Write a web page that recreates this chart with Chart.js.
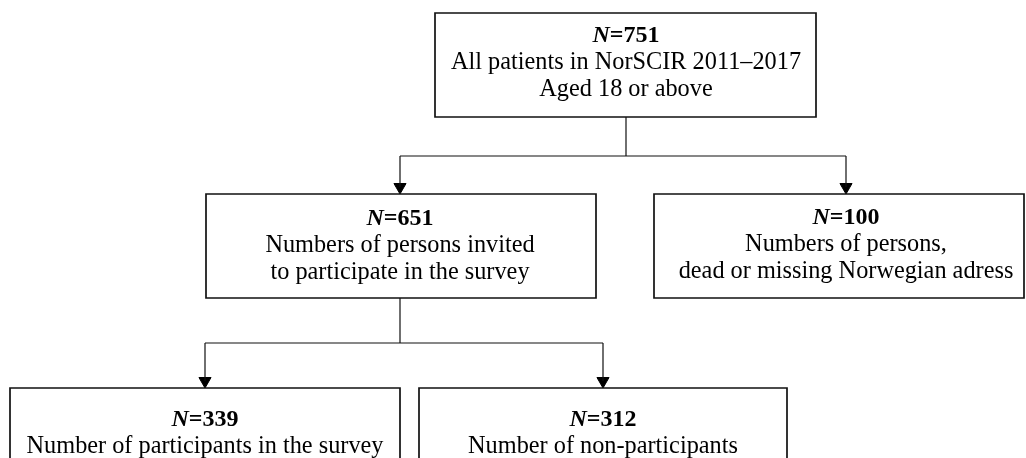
<!DOCTYPE html>
<html>
<head>
<meta charset="utf-8">
<script src="https://cdn.jsdelivr.net/npm/chart.js@4/dist/chart.umd.min.js"></script>
<style>
html,body{margin:0;padding:0;background:#fff;}
#wrap{width:1026px;height:458px;}
</style>
</head>
<body>
<div id="wrap"><canvas id="c" width="1026" height="458"></canvas></div>
<script>
// ---- data ----
const counts = [751, 651, 100, 339, 312];
const descriptions = [
  ["All patients in NorSCIR 2011\u20132017", "Aged 18 or above"],
  ["Numbers of persons invited", "to participate in the survey"],
  ["Numbers of persons,", "dead or missing Norwegian adress"],
  ["Number of participants in the survey"],
  ["Number of non-participants"]
];
const parentOf = [null, 0, 0, 1, 1];

// ---- layout (positions in page units) ----
const boxes = [
  {x0: 435, x1: 816, y0: 13,  y1: 117, cx: 626, ty: 36},
  {x0: 206, x1: 596, y0: 194, y1: 298, cx: 400, ty: 219},
  {x0: 654, x1: 1024, y0: 194, y1: 298, cx: 846, ty: 218},
  {x0: 10,  x1: 400, y0: 388, y1: 520, cx: 205, ty: 420},
  {x0: 419, x1: 787, y0: 388, y1: 520, cx: 603, ty: 420}
];
const branchY = {0: 156, 1: 343};
const lineGap = 27;
const arrowR = 7;

// ---- build datasets ----
const datasets = [];
boxes.forEach((b) => {
  datasets.push({
    data: [{x:b.x0,y:b.y0},{x:b.x1,y:b.y0},{x:b.x1,y:b.y1},{x:b.x0,y:b.y1},{x:b.x0,y:b.y0}],
    showLine: true, borderColor: '#111', borderWidth: 1.7, pointRadius: 0, fill: false,
    borderCapStyle: 'square', borderJoinStyle: 'miter'
  });
});
const arrowPts = [];
Object.keys(branchY).forEach((pk) => {
  const p = boxes[+pk];
  const by = branchY[pk];
  const kids = parentOf.map((v, i) => v === +pk ? i : -1).filter(i => i >= 0);
  const xs = kids.map(k => boxes[k].cx);
  datasets.push({data:[{x:p.cx,y:p.y1},{x:p.cx,y:by}], showLine:true, borderColor:'#111', borderWidth:1.2, pointRadius:0});
  datasets.push({data:[{x:Math.min(...xs),y:by},{x:Math.max(...xs),y:by}], showLine:true, borderColor:'#111', borderWidth:1.2, pointRadius:0});
  kids.forEach(k => {
    const c = boxes[k];
    datasets.push({data:[{x:c.cx,y:by},{x:c.cx,y:c.y0 - arrowR}], showLine:true, borderColor:'#111', borderWidth:1.2, pointRadius:0});
    arrowPts.push({x:c.cx, y:c.y0 - arrowR});
  });
});
datasets.push({
  data: arrowPts, showLine: false, pointStyle: 'triangle', rotation: 180,
  pointRadius: arrowR, pointBackgroundColor: '#000', pointBorderColor: '#000', pointBorderWidth: 1
});

const textPlugin = {
  id: 'boxText',
  afterDraw(chart) {
    const ctx = chart.ctx;
    const xs = chart.scales.x, ys = chart.scales.y;
    ctx.save();
    ctx.fillStyle = '#000';
    ctx.textBaseline = 'middle';
    boxes.forEach((b, i) => {
      const cx = xs.getPixelForValue(b.cx);
      const y = ys.getPixelForValue(b.ty);
      const f1 = 'italic bold 24px "Liberation Serif"';
      const f2 = 'bold 24px "Liberation Serif"';
      ctx.font = f1; const w1 = ctx.measureText('N').width;
      ctx.font = f2; const s2 = '=' + counts[i]; const w2 = ctx.measureText(s2).width;
      const sx = cx - (w1 + w2) / 2;
      ctx.textAlign = 'left';
      ctx.font = f1; ctx.fillText('N', sx, y);
      ctx.font = f2; ctx.fillText(s2, sx + w1, y);
      ctx.font = '24.3px "Liberation Serif"';
      ctx.textAlign = 'center';
      descriptions[i].forEach((line, j) => {
        ctx.fillText(line, cx, ys.getPixelForValue(b.ty + lineGap * (j + 1)));
      });
    });
    ctx.restore();
  }
};

new Chart(document.getElementById('c'), {
  type: 'scatter',
  data: { datasets },
  options: {
    responsive: false, animation: false, devicePixelRatio: 1,
    layout: { padding: 0, autoPadding: false },
    plugins: { legend: {display:false}, tooltip: {enabled:false} },
    elements: { line: { tension: 0 } },
    scales: {
      x: { type:'linear', min:0, max:1026, display:false },
      y: { type:'linear', min:0, max:458, reverse:true, display:false }
    }
  },
  plugins: [textPlugin]
});
</script>
</body>
</html>
